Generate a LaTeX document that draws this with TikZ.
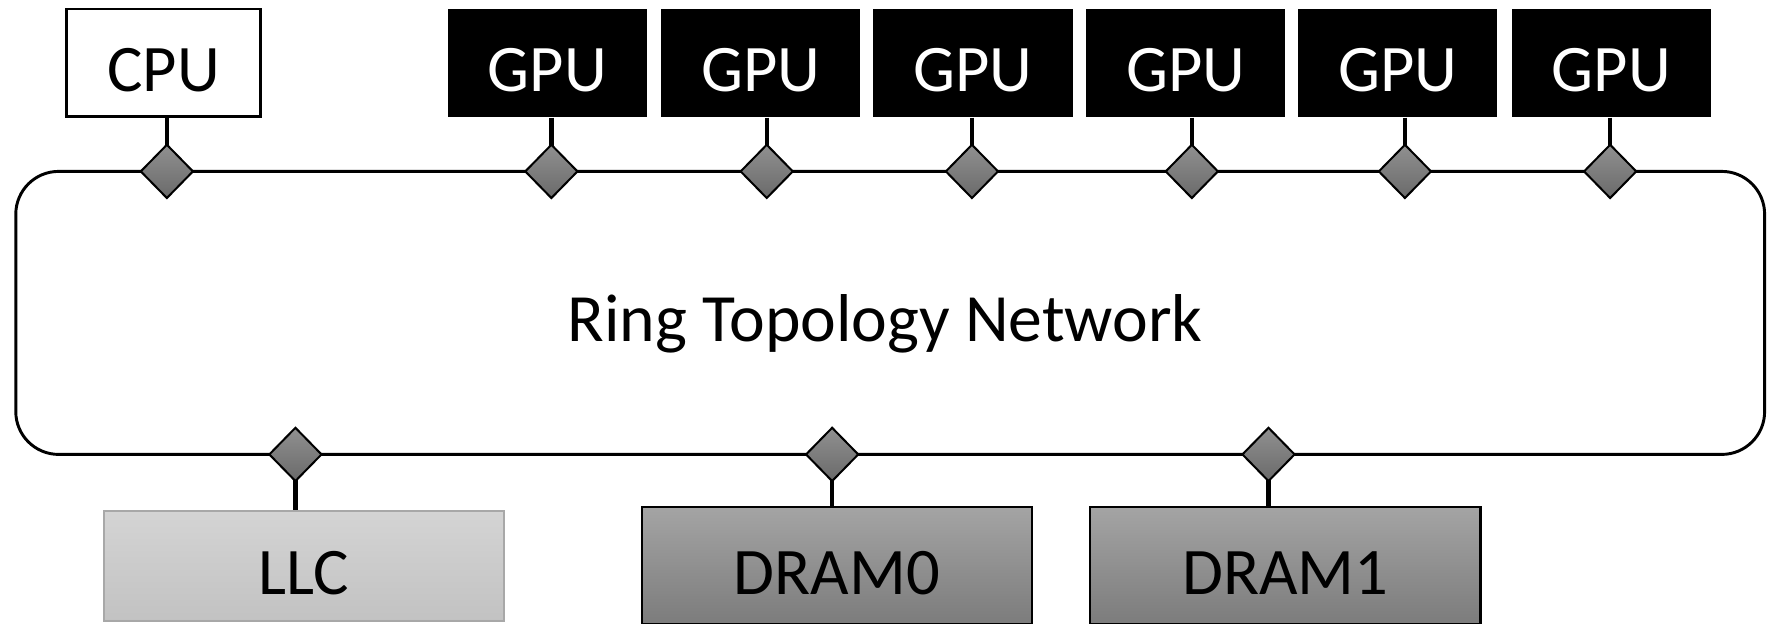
\documentclass[tikz,border=0pt]{standalone}
\usepackage{fontspec}
\setmainfont{Carlito}
\usetikzlibrary{shapes.geometric}
\definecolor{porttop}{HTML}{909090}
\definecolor{portbot}{HTML}{6A6A6A}
\definecolor{llctop}{HTML}{D4D4D4}
\definecolor{llcbot}{HTML}{C2C2C2}
\definecolor{llcline}{HTML}{A8A8A8}
\definecolor{dramtop}{HTML}{A4A4A4}
\definecolor{drambot}{HTML}{7C7C7C}
\begin{document}
\begin{tikzpicture}[x=0.5pt,y=-0.5pt,
  lbl/.style={font=\fontsize{29.5}{34}\selectfont, inner sep=0pt},
  boxlbl/.style={lbl, text height=25.5pt, text depth=0pt},
  cpubox/.style={boxlbl, draw=black, line width=1.3pt, fill=white,
    minimum width=86pt, minimum height=47.5pt},
  gpubox/.style={boxlbl, fill=black, text=white,
    minimum width=88.5pt, minimum height=48pt},
  llcbox/.style={boxlbl, draw=llcline, line width=1pt, top color=llctop, bottom color=llcbot,
    minimum width=177.5pt, minimum height=49pt},
  drambox/.style={boxlbl, draw=black, line width=0.9pt, top color=dramtop, bottom color=drambot,
    minimum width=173pt, minimum height=51.5pt},
  ringbox/.style={draw=black, line width=1.3pt, rounded corners=19pt,
    minimum width=775.5pt, minimum height=125.5pt, inner sep=0pt},
  port/.style={diamond, draw=black, line width=0.9pt, top color=porttop, bottom color=portbot,
    minimum width=23.5pt, minimum height=24pt, inner sep=0pt},
  stub/.style={draw=black, line width=1.9pt}
]
\useasboundingbox (0,0) rectangle (1568,553);

% ring interconnect
\node[ringbox] (ring) at (789.5,277.5) {};
\node[lbl, font=\fontsize{30}{34}\selectfont] (title) at (785,287) {Ring Topology Network};

% processors above the ring
\node[cpubox] (cpu) at (145,55.5) {CPU};
\node[gpubox] (g1) at (485.5,56) {GPU};
\node[gpubox] (g2) at (674.5,56) {GPU};
\node[gpubox] (g3) at (863,56) {GPU};
\node[gpubox] (g4) at (1051.5,56) {GPU};
\node[gpubox] (g5) at (1239.5,56) {GPU};
\node[gpubox] (g6) at (1429,56) {GPU};

% memory blocks below the ring
\node[llcbox] (llc) at (269.5,502) {LLC};
\node[drambox] (dram0) at (742,501.5) {DRAM0};
\node[drambox] (dram1) at (1140,501.5) {DRAM1};

% stubs from each block to its ring stop
\foreach \b/\x in {cpu/148,g1/489,g2/680,g3/862,g4/1057,g5/1246,g6/1428}{
  \coordinate (s-\b) at (\x,152);
  \draw[stub] (s-\b |- \b.south) -- (s-\b);
}
\foreach \b/\x in {llc/262,dram0/738,dram1/1125}{
  \coordinate (s-\b) at (\x,403);
  \draw[stub] (s-\b |- \b.north) -- (s-\b);
}

% ring stops
\foreach \b in {cpu,g1,g2,g3,g4,g5,g6,llc,dram0,dram1}{
  \node[port] (p-\b) at (s-\b) {};
}
\end{tikzpicture}
\end{document}
